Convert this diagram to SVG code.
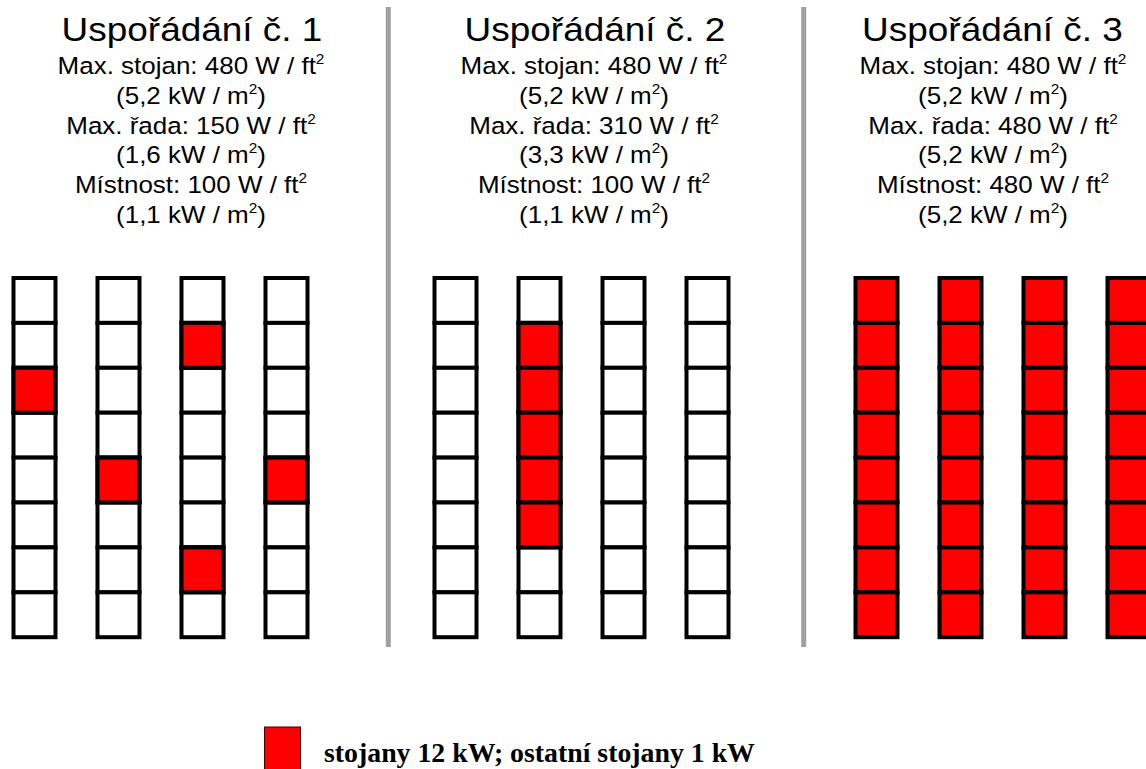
<svg xmlns="http://www.w3.org/2000/svg" width="1146" height="769" viewBox="0 0 1146 769">
<style>
.t{font-family:"Liberation Sans",Arial,sans-serif;fill:#000;text-anchor:middle}
.h{font-size:33px}
.l{font-size:24.5px}
.s{font-size:14.5px}
.c{fill:#fff;stroke:#000;stroke-width:4}
.r{fill:#ff0000;stroke:#000;stroke-width:4}
.sep{stroke:#a0a0a0;stroke-width:5}
.lg{font-family:"Liberation Serif","Times New Roman",serif;font-weight:bold;font-size:27.8px;fill:#000}
</style>
<defs>
<g id="colW">
<rect class="c" x="0" y="0" width="42" height="44.9"/>
<rect class="c" x="0" y="44.9" width="42" height="44.9"/>
<rect class="c" x="0" y="89.8" width="42" height="44.9"/>
<rect class="c" x="0" y="134.7" width="42" height="44.9"/>
<rect class="c" x="0" y="179.6" width="42" height="44.9"/>
<rect class="c" x="0" y="224.5" width="42" height="44.9"/>
<rect class="c" x="0" y="269.4" width="42" height="44.9"/>
<rect class="c" x="0" y="314.3" width="42" height="44.9"/>
</g>
<g id="colR">
<rect class="r" x="0" y="0" width="42" height="44.9"/>
<rect class="r" x="0" y="44.9" width="42" height="44.9"/>
<rect class="r" x="0" y="89.8" width="42" height="44.9"/>
<rect class="r" x="0" y="134.7" width="42" height="44.9"/>
<rect class="r" x="0" y="179.6" width="42" height="44.9"/>
<rect class="r" x="0" y="224.5" width="42" height="44.9"/>
<rect class="r" x="0" y="269.4" width="42" height="44.9"/>
<rect class="r" x="0" y="314.3" width="42" height="44.9"/>
</g>
</defs>
<rect width="1146" height="769" fill="#fff"/>

<g id="separators">
<line class="sep" x1="388.3" y1="7" x2="388.3" y2="647"/>
<line class="sep" x1="803.7" y1="7" x2="803.7" y2="647"/>
</g>

<g id="layout1">
<g transform="translate(192,0) scale(1.12,1)">
<text class="t h" x="0" y="41">Uspořádání č. 1</text>
</g>
<g transform="translate(191,0) scale(1.06,1)">
<text class="t l" x="0" y="74">Max. stojan: 480 W / ft<tspan class="s" dy="-10">2</tspan></text>
<text class="t l" x="0" y="103.8">(5,2 kW / m<tspan class="s" dy="-10">2</tspan><tspan dy="10">)</tspan></text>
<text class="t l" x="0" y="133.6">Max. řada: 150 W / ft<tspan class="s" dy="-10">2</tspan></text>
<text class="t l" x="0" y="163.4">(1,6 kW / m<tspan class="s" dy="-10">2</tspan><tspan dy="10">)</tspan></text>
<text class="t l" x="0" y="193.2">Místnost: 100 W / ft<tspan class="s" dy="-10">2</tspan></text>
<text class="t l" x="0" y="223">(1,1 kW / m<tspan class="s" dy="-10">2</tspan><tspan dy="10">)</tspan></text>
</g>
<g transform="translate(13.5,278)">
<use href="#colW" x="0"/>
<use href="#colW" x="84"/>
<use href="#colW" x="168"/>
<use href="#colW" x="252"/>
<rect class="r" x="0" y="89.8" width="42" height="44.9"/>
<rect class="r" x="84" y="179.6" width="42" height="44.9"/>
<rect class="r" x="168" y="44.9" width="42" height="44.9"/>
<rect class="r" x="168" y="269.4" width="42" height="44.9"/>
<rect class="r" x="252" y="179.6" width="42" height="44.9"/>
</g>
</g>

<g id="layout2">
<g transform="translate(595,0) scale(1.12,1)">
<text class="t h" x="0" y="41">Uspořádání č. 2</text>
</g>
<g transform="translate(594,0) scale(1.06,1)">
<text class="t l" x="0" y="74">Max. stojan: 480 W / ft<tspan class="s" dy="-10">2</tspan></text>
<text class="t l" x="0" y="103.8">(5,2 kW / m<tspan class="s" dy="-10">2</tspan><tspan dy="10">)</tspan></text>
<text class="t l" x="0" y="133.6">Max. řada: 310 W / ft<tspan class="s" dy="-10">2</tspan></text>
<text class="t l" x="0" y="163.4">(3,3 kW / m<tspan class="s" dy="-10">2</tspan><tspan dy="10">)</tspan></text>
<text class="t l" x="0" y="193.2">Místnost: 100 W / ft<tspan class="s" dy="-10">2</tspan></text>
<text class="t l" x="0" y="223">(1,1 kW / m<tspan class="s" dy="-10">2</tspan><tspan dy="10">)</tspan></text>
</g>
<g transform="translate(434.5,278)">
<use href="#colW" x="0"/>
<use href="#colW" x="84"/>
<use href="#colW" x="168"/>
<use href="#colW" x="252"/>
<rect class="r" x="84" y="44.9" width="42" height="44.9"/>
<rect class="r" x="84" y="89.8" width="42" height="44.9"/>
<rect class="r" x="84" y="134.7" width="42" height="44.9"/>
<rect class="r" x="84" y="179.6" width="42" height="44.9"/>
<rect class="r" x="84" y="224.5" width="42" height="44.9"/>
</g>
</g>

<g id="layout3">
<g transform="translate(992.5,0) scale(1.12,1)">
<text class="t h" x="0" y="41">Uspořádání č. 3</text>
</g>
<g transform="translate(993,0) scale(1.06,1)">
<text class="t l" x="0" y="74">Max. stojan: 480 W / ft<tspan class="s" dy="-10">2</tspan></text>
<text class="t l" x="0" y="103.8">(5,2 kW / m<tspan class="s" dy="-10">2</tspan><tspan dy="10">)</tspan></text>
<text class="t l" x="0" y="133.6">Max. řada: 480 W / ft<tspan class="s" dy="-10">2</tspan></text>
<text class="t l" x="0" y="163.4">(5,2 kW / m<tspan class="s" dy="-10">2</tspan><tspan dy="10">)</tspan></text>
<text class="t l" x="0" y="193.2">Místnost: 480 W / ft<tspan class="s" dy="-10">2</tspan></text>
<text class="t l" x="0" y="223">(5,2 kW / m<tspan class="s" dy="-10">2</tspan><tspan dy="10">)</tspan></text>
</g>
<g transform="translate(855.5,278)">
<use href="#colR" x="0"/>
<use href="#colR" x="84"/>
<use href="#colR" x="168"/>
<use href="#colR" x="252"/>
</g>
</g>

<g id="legend">
<rect x="264.5" y="727" width="36" height="45" fill="#ff0000" stroke="#400" stroke-width="1"/>
<text class="lg" x="324" y="761.5">stojany 12 kW; ostatní stojany 1 kW</text>
</g>
</svg>
